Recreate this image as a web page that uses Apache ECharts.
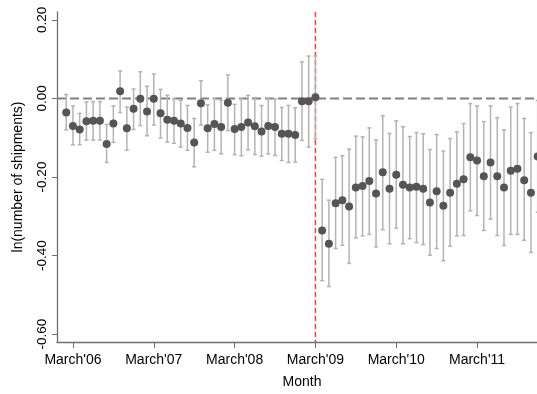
<!DOCTYPE html>
<html>
<head>
<meta charset="utf-8">
<script src="https://cdn.jsdelivr.net/npm/echarts@6/dist/echarts.min.js"></script>
<style>
  html, body { margin: 0; padding: 0; background: #fff; }
  #chart { width: 537px; height: 394px; }
</style>
</head>
<body>
<div id="chart"></div>
<script>
// month index: 0 = March 2006, first estimate is Feb 2006, last is Dec 2011
const firstMonth = -1;
const tickMonths = [0, 12, 24, 36, 48, 60];
const tickLabels = ["March'06", "March'07", "March'08", "March'09", "March'10", "March'11"];
const yTicks = [-0.6, -0.4, -0.2, 0, 0.2];
const breakMonth = 36; // March'09
const yMin = -0.62, yMax = 0.22;
const xMin = -2.37, xMax = 68.9;

// point estimates
const estimate = [
  -0.036, -0.070, -0.079, -0.058, -0.057, -0.057, -0.116, -0.064, 0.018, -0.076,
  -0.026, -0.001, -0.033, -0.001, -0.038, -0.054, -0.057, -0.064, -0.075, -0.112,
  -0.012, -0.076, -0.065, -0.073, -0.011, -0.078, -0.073, -0.061, -0.071, -0.084,
  -0.070, -0.073, -0.090, -0.090, -0.093, -0.007, -0.007, 0.003, -0.336, -0.370,
  -0.267, -0.259, -0.275, -0.227, -0.223, -0.210, -0.242, -0.188, -0.230, -0.194,
  -0.220, -0.227, -0.225, -0.230, -0.265, -0.236, -0.273, -0.240, -0.217, -0.206,
  -0.150, -0.158, -0.198, -0.163, -0.198, -0.227, -0.184, -0.179, -0.208, -0.240,
  -0.148
];
// upper bound of confidence interval
const upper = [
  0.010, -0.019, -0.038, -0.009, -0.008, -0.008, -0.066, -0.019, 0.070, -0.022,
  0.024, 0.068, 0.031, 0.062, 0.023, 0.008, -0.001, -0.005, -0.018, -0.051,
  0.045, -0.016, -0.001, -0.005, 0.060, -0.015, -0.001, 0.008, 0.002, -0.018,
  -0.001, -0.001, -0.023, -0.018, -0.024, 0.093, 0.108, 0.108, -0.206, -0.259,
  -0.150, -0.146, -0.129, -0.096, -0.098, -0.075, -0.106, -0.044, -0.089, -0.057,
  -0.072, -0.097, -0.087, -0.090, -0.130, -0.092, -0.134, -0.102, -0.085, -0.064,
  -0.013, -0.019, -0.059, -0.019, -0.049, -0.080, -0.022, -0.013, -0.051, -0.087,
  -0.005
];
// lower bound of confidence interval
const lower = [
  -0.080, -0.118, -0.118, -0.106, -0.106, -0.106, -0.163, -0.112, -0.036, -0.132,
  -0.079, -0.069, -0.095, -0.068, -0.101, -0.111, -0.114, -0.124, -0.132, -0.174,
  -0.068, -0.137, -0.132, -0.141, -0.082, -0.143, -0.146, -0.131, -0.143, -0.147,
  -0.141, -0.145, -0.158, -0.163, -0.162, -0.107, -0.124, -0.103, -0.464, -0.479,
  -0.382, -0.374, -0.420, -0.355, -0.350, -0.346, -0.378, -0.334, -0.370, -0.330,
  -0.370, -0.357, -0.367, -0.372, -0.399, -0.382, -0.413, -0.376, -0.350, -0.349,
  -0.286, -0.298, -0.336, -0.307, -0.349, -0.374, -0.346, -0.346, -0.361, -0.392,
  -0.290
];

const months = estimate.map((_, i) => firstMonth + i);
const pointData = months.map((m, i) => [m, estimate[i]]);
const barData = months.map((m, i) => [m, lower[i], upper[i]]);

const font = "'Liberation Sans', Arial, sans-serif";
const axisGray = '#6f6f6f';

var myChart = echarts.init(document.getElementById('chart'), null, {renderer: 'canvas'});

myChart.setOption({
  animation: false,
  grid: { left: 57, right: 0, top: 12, bottom: 48 },
  xAxis: {
    type: 'value',
    min: xMin,
    max: xMax,
    name: 'Month',
    nameLocation: 'middle',
    nameGap: 33,
    nameTextStyle: { fontFamily: font, fontSize: 14, color: '#000', padding: [0, 0, 0, 10] },
    axisLine: { onZero: false, lineStyle: { color: axisGray, width: 1.3 } },
    axisTick: { customValues: tickMonths, length: 6, lineStyle: { color: axisGray, width: 1 } },
    axisLabel: {
      customValues: tickMonths,
      margin: 11,
      fontFamily: font,
      fontSize: 14,
      color: '#000',
      formatter: v => tickLabels[tickMonths.indexOf(Math.round(v))] || ''
    },
    splitLine: { show: false }
  },
  yAxis: {
    type: 'value',
    min: yMin,
    max: yMax,
    name: 'ln(number of shipments)',
    nameLocation: 'middle',
    nameGap: 32,
    nameTextStyle: { fontFamily: font, fontSize: 14, color: '#000' },
    axisLine: { show: true, onZero: false, lineStyle: { color: axisGray, width: 1.3 } },
    axisTick: { show: true, customValues: yTicks, length: 5, lineStyle: { color: axisGray, width: 1 } },
    axisLabel: {
      customValues: yTicks,
      rotate: 90,
      margin: 8,
      fontFamily: font,
      fontSize: 13.5,
      color: '#000',
      formatter: v => v.toFixed(2)
    },
    splitLine: { show: false }
  },
  series: [
    {
      // zero reference line
      type: 'line',
      z: 1,
      silent: true,
      showSymbol: false,
      data: [[xMin, 0], [xMax, 0]],
      lineStyle: { color: '#808080', width: 2, type: [9, 4] }
    },
    {
      // policy break at March'09
      type: 'line',
      z: 1,
      silent: true,
      showSymbol: false,
      data: [[breakMonth, yMax], [breakMonth, yMin]],
      lineStyle: { color: '#f23a3a', width: 1.5, type: [5, 3] }
    },
    {
      type: 'custom',
      z: 2,
      clip: false,
      data: barData,
      encode: { x: 0, y: [1, 2] },
      renderItem: function (params, api) {
        var top = api.coord([api.value(0), api.value(2)]);
        var bot = api.coord([api.value(0), api.value(1)]);
        var cap = 2;
        var st = { stroke: '#b3b3b3', lineWidth: 1.5 };
        return {
          type: 'group',
          children: [
            { type: 'line', shape: { x1: top[0], y1: top[1], x2: bot[0], y2: bot[1] }, style: st },
            { type: 'line', shape: { x1: top[0] - cap, y1: top[1], x2: top[0] + cap, y2: top[1] }, style: st },
            { type: 'line', shape: { x1: bot[0] - cap, y1: bot[1], x2: bot[0] + cap, y2: bot[1] }, style: st }
          ]
        };
      }
    },
    {
      type: 'scatter',
      z: 3,
      clip: false,
      symbolSize: 8,
      itemStyle: { color: '#555555', opacity: 1 },
      data: pointData
    }
  ]
});
</script>
</body>
</html>
